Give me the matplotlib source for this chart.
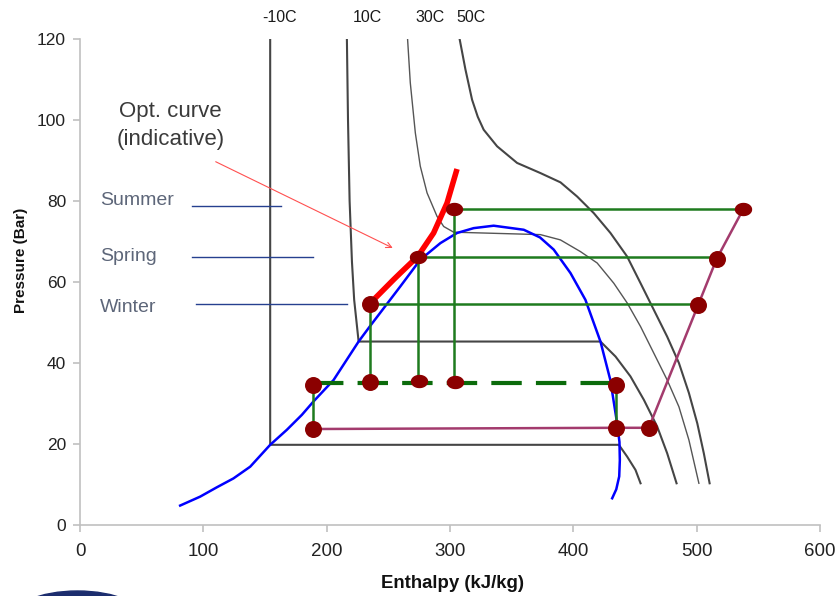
import matplotlib
matplotlib.use('Agg')
from matplotlib import pyplot as plt
from matplotlib.path import Path
from matplotlib.patches import Ellipse
import numpy as np

plt.rcParams['font.family'] = ['Liberation Sans', 'DejaVu Sans']

# isotherms (enthalpy, pressure)
iso_m10_h = [154.2, 154.2, 436.9, 443.6, 450.4, 454.5]
iso_m10_p = [120, 19.8, 19.8, 16.9, 13.6, 10.3]
iso_10_h = [216.4, 217.3, 218.6, 220.5, 222.3, 225.9, 422.0, 434.2, 446.3, 457.2, 468.0, 476.1, 483.7]
iso_10_p = [120, 100, 80, 65, 55.6, 45.3, 45.3, 41.6, 36.7, 30.9, 24.3, 17.7, 10.3]
iso_30_h = [265.6, 267.8, 271.9, 275.9, 281.4, 289.5, 294.9, 303.0, 373.3, 389.5, 405.8, 419.3,
            432.8, 443.7, 454.5, 465.3, 476.1, 485.6, 493.7, 501.8]
iso_30_p = [120, 109.2, 96.8, 88.6, 82.0, 76.2, 73.7, 72.3, 71.7, 70.4, 67.5, 64.7,
            59.7, 54.8, 49.0, 42.4, 35.8, 29.2, 21.0, 10.3]
iso_50_h = [307.8, 312.5, 317.9, 322.5, 327.3, 338.2, 354.4, 373.3, 389.6, 403.1, 416.6, 430.1, 443.6, 454.5,
            465.3, 476.1, 485.6, 493.7, 500.5, 505.8, 510.5]
iso_50_p = [120, 112.5, 105.0, 100.8, 97.6, 93.5, 89.4, 86.9, 84.6, 81.1, 77.0, 72.1, 66.3, 59.7,
            53.1, 46.5, 40.0, 32.6, 25.1, 17.7, 10.3]
iso_names = ['-10C', '10C', '30C', '50C']
iso_label_h = [161.5, 233.3, 284.0, 317.0]

# saturation dome
sat_h = [81.2, 97.4, 110.9, 124.4, 138.0, 154.2, 167.7, 179.9, 189.3, 205.6, 225.9, 235.4, 259.7,
         275.9, 292.2, 305.7, 319.2, 335.4, 359.8, 373.0, 384.1, 397.7, 409.8, 422.0, 430.0,
         435.5, 437.4, 437.7, 437.2, 434.8, 431.5]
sat_p = [4.8, 7.0, 9.3, 11.5, 14.4, 19.8, 23.5, 27.2, 30.5, 35.8, 45.3, 49.2, 58.9,
         65.5, 69.6, 72.1, 73.3, 73.9, 72.9, 71.0, 68.0, 62.2, 55.6, 45.3, 35.8,
         25.1, 20.5, 16.0, 12.0, 8.8, 6.6]

# optimal high pressure curve
opt_h = [235.4, 254.3, 259.7, 273.8, 286.7, 297.6, 305.7]
opt_p = [54.8, 60.6, 62.2, 66.3, 72.1, 79.5, 87.9]

# cycle states
seasons = ['Summer', 'Spring', 'Winter']
gc_in_h = [537.8, 516.2, 501.3]      # gas cooler inlet
gc_out_h = [303.5, 273.8, 235.4]     # gas cooler outlet
high_p = [78.0, 66.1, 54.6]
season_line_end = [163.1, 189.1, 216.7]
season_line_start = [90.6, 90.6, 94.2]
season_line_p = [78.8, 66.1, 54.5]
season_text_p = [79.1, 65.3, 52.7]

rec_p = 35.0          # receiver pressure
evap_p = 24.0         # evaporation pressure
rec_liq_h = 189.3
rec_vap_h = 434.2
suct_h = 461.2

comp_h = [suct_h, 501.3, 516.2, 537.8]
comp_p = [evap_p, 54.4, 65.7, 78.0]

fig = plt.figure(figsize=(8.39, 5.96), dpi=100)
ax = fig.add_axes([80 / 839, 71 / 596, 740 / 839, 486 / 596])

gray = '#454545'
ax.plot(iso_m10_h, iso_m10_p, color=gray, lw=1.5)
ax.plot(iso_10_h, iso_10_p, color=gray, lw=1.5)
ax.plot(iso_30_h, iso_30_p, color='#555555', lw=1.0)
ax.plot(iso_50_h, iso_50_p, color=gray, lw=1.5)
for name, h in zip(iso_names, iso_label_h):
    ax.text(h, 125.4, name, ha='center', va='center', fontsize=11.5, color='#1a1a1a', clip_on=False)

ax.plot(sat_h, sat_p, color='#0000ff', lw=1.8, zorder=3)

# green: gas cooler lines, expansion to receiver
green = '#1e7b1e'
for hi, ho, p in zip(gc_in_h, gc_out_h, high_p):
    ax.plot([ho, hi], [p, p], color=green, lw=1.8, zorder=4)
    ax.plot([ho, ho], [p, rec_p], color=green, lw=1.8, zorder=4)
ax.plot([rec_liq_h, rec_vap_h], [rec_p, rec_p], color='#0b6b0b', lw=3,
        linestyle=(0, (7.3, 3.4)), zorder=4)
ax.plot([rec_liq_h, rec_liq_h], [rec_p, evap_p], color=green, lw=1.8, zorder=4)
ax.plot([rec_vap_h, rec_vap_h], [rec_p, evap_p], color=green, lw=1.8, zorder=4)

# magenta: evaporator + compressor
mag = '#a33b6d'
ax.plot([rec_liq_h, rec_vap_h, suct_h], [evap_p - 0.3, evap_p, evap_p], color=mag, lw=1.8, zorder=4)
ax.plot(comp_h, comp_p, color=mag, lw=1.8, zorder=4)

ax.plot(opt_h, opt_p, color='#ff0000', lw=4, solid_capstyle='butt', zorder=5)

# state points
t = np.linspace(0, 2 * np.pi, 60)
oval = Path(np.column_stack([np.cos(t), 0.75 * np.sin(t)]))
dot = '#8b0000'
round_h = [235.4, 501.3, 516.2, rec_liq_h, rec_liq_h, 235.4, rec_vap_h, rec_vap_h, suct_h]
round_p = [54.6, 54.4, 65.7, 34.6, 23.7, 35.2, 34.6, 24.0, 24.0]
oval_h = [303.5, 537.8, 273.8, 274.6, 303.8]
oval_p = [78.0, 78.0, 66.1, 35.6, 35.4]
ax.plot(round_h, round_p, 'o', color=dot, ms=11.2, mec=dot, zorder=6)
ax.plot(oval_h, oval_p, linestyle='none', marker=oval, color=dot, ms=11.5, mec=dot, zorder=6)

# season markers
for s, x0, x1, p, tp in zip(seasons, season_line_start, season_line_end, season_line_p, season_text_p):
    ax.plot([x0, x1], [p, p], color='#26408f', lw=1.0, zorder=2)
    ax.text(16.5, tp, s, fontsize=14, color='#5d6679', va='baseline', ha='left')

ax.text(73.4, 98.7, 'Opt. curve\n(indicative)', fontsize=16, color='#3a3a3a',
        ha='center', va='center', linespacing=1.45)
ax.annotate('', xy=(255.6, 68.1), xytext=(108.0, 90.0),
            arrowprops=dict(arrowstyle='->', color='#ff5050', lw=0.8, mutation_scale=10))

ax.set_xlim(0, 600)
ax.set_ylim(0, 120)
ax.set_xticks(range(0, 601, 100))
ax.set_yticks(range(0, 121, 20))
ax.spines['top'].set_visible(False)
ax.spines['right'].set_visible(False)
for sp in ['left', 'bottom']:
    ax.spines[sp].set_color('#c0c0c0')
    ax.spines[sp].set_linewidth(1.2)
ax.tick_params(axis='both', colors='#c0c0c0', length=5, width=1.2, labelcolor='#222222')
ax.tick_params(axis='x', labelsize=13.5, pad=8)
ax.tick_params(axis='y', labelsize=12.5, pad=5)

ax.set_xlabel('Enthalpy (kJ/kg)', fontsize=13.4, fontweight='bold', color='#111111', va='center')
ax.set_ylabel('Pressure (Bar)', fontsize=11, fontweight='bold', color='#111111', va='center')
ax.xaxis.set_label_coords(0.504, -0.12)
ax.yaxis.set_label_coords(-0.08, 0.545)

# logo edge peeking at the bottom
fig.patches.append(Ellipse((77.5 / 839, -25 / 596), 138 / 839, 60 / 596,
                           transform=fig.transFigure, color='#1c2d6e', zorder=0))

fig.savefig('out.png', dpi=100)
